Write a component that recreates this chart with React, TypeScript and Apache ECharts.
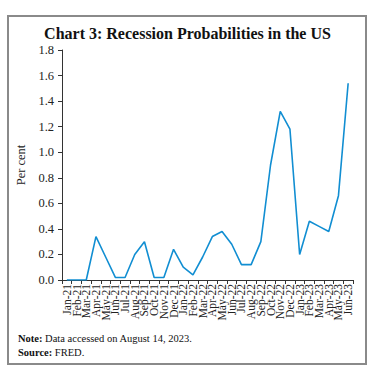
import React, { useEffect, useRef } from "react";
import * as echarts from "echarts";

const categories = [
  "Jan-21", "Feb-21", "Mar-21", "Apr-21", "May-21", "Jun-21", "Jul-21", "Aug-21", "Sep-21", "Oct-21",
  "Nov-21", "Dec-21", "Jan-22", "Feb-22", "Mar-22", "Apr-22", "May-22", "Jun-22", "Jul-22", "Aug-22",
  "Sep-22", "Oct-22", "Nov-22", "Dec-22", "Jan-23", "Feb-23", "Mar-23", "Apr-23", "May-23", "Jun-23",
];
const probabilities = [
  0, 0, 0, 0.34, 0.18, 0.02, 0.02, 0.2, 0.3, 0.02,
  0.02, 0.24, 0.1, 0.04, 0.18, 0.34, 0.38, 0.28, 0.12, 0.12,
  0.3, 0.9, 1.32, 1.18, 0.2, 0.46, 0.42, 0.38, 0.66, 1.54,
];
const titleText = "Chart 3: Recession Probabilities in the US";
const yAxisName = "Per cent";

const SERIF = "'Liberation Serif', 'DejaVu Serif', serif";

export default function App() {
  const ref = useRef<HTMLDivElement>(null);
  useEffect(() => {
    if (!ref.current) return;
    const chart = echarts.init(ref.current, null, { renderer: "svg" });
    chart.setOption({
      animation: false,
      backgroundColor: "#ffffff",
      textStyle: { fontFamily: SERIF },
      title: {
        text: titleText,
        left: "center",
        top: 20,
        textStyle: { fontFamily: SERIF, fontWeight: "bold", fontSize: 16, color: "#111" },
      },
      grid: { left: 62, right: 22, top: 50, bottom: 95 },
      xAxis: {
        type: "category",
        data: categories,
        boundaryGap: true,
        axisLine: { lineStyle: { color: "#333", width: 1 } },
        axisTick: { show: true, length: 4, lineStyle: { color: "#333" } },
        axisLabel: {
          rotate: 90,
          interval: 0,
          fontSize: 11.5,
          color: "#222",
          fontFamily: SERIF,
          margin: 4,
        },
      },
      yAxis: {
        type: "value",
        min: 0,
        max: 1.8,
        interval: 0.2,
        name: yAxisName,
        nameLocation: "middle",
        nameGap: 31,
        nameTextStyle: { fontFamily: SERIF, fontSize: 12.5, color: "#222" },
        axisLine: { show: true, lineStyle: { color: "#333", width: 1 } },
        axisTick: { show: true, length: 4, lineStyle: { color: "#333" } },
        splitLine: { show: false },
        axisLabel: {
          formatter: (v: number) => v.toFixed(1),
          fontSize: 12.5,
          color: "#222",
          fontFamily: SERIF,
          margin: 8,
        },
      },
      series: [
        {
          type: "line",
          data: probabilities,
          symbol: "none",
          lineStyle: { color: "#118ed2", width: 1.6 },
        },
      ],
      graphic: [
        {
          type: "rect",
          shape: { x: 8, y: 16, width: 358, height: 348 },
          style: { fill: "none", stroke: "#8a8a8a", lineWidth: 2 },
          silent: true,
        },
        {
          type: "text",
          left: 18,
          top: 333,
          style: {
            text: "{b|Note:} Data accessed on August 14, 2023.",
            rich: {
              b: { fontWeight: "bold", fontFamily: SERIF, fontSize: 10.5, fill: "#111" },
            },
            fontFamily: SERIF,
            fontSize: 10.5,
            fill: "#111",
          },
        },
        {
          type: "text",
          left: 18,
          top: 347,
          style: {
            text: "{b|Source:} FRED.",
            rich: {
              b: { fontWeight: "bold", fontFamily: SERIF, fontSize: 10.5, fill: "#111" },
            },
            fontFamily: SERIF,
            fontSize: 10.5,
            fill: "#111",
          },
        },
      ],
    });
    return () => chart.dispose();
  }, []);
  return (
    <div
      ref={ref}
      style={{ position: "fixed", left: 0, top: 0, width: 375, height: 375 }}
    />
  );
}
